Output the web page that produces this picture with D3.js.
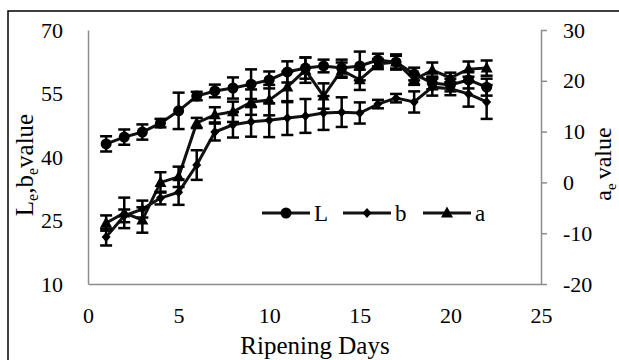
<!DOCTYPE html>
<html><head><meta charset="utf-8">
<script src="https://cdn.jsdelivr.net/npm/d3@7"></script>
<style>
html,body{margin:0;padding:0;background:#fff;}
svg{display:block;}
text{font-family:"Liberation Serif","Times New Roman",serif;fill:#000;}
</style></head><body>
<svg id="c" width="619" height="360"></svg>
<script>
const days = [1,2,3,4,5,6,7,8,9,10,11,12,13,14,15,16,17,18,19,20,21,22];
const Lvals = [43.1,44.7,45.9,48.0,50.9,54.4,55.6,56.3,57.2,58.2,60.1,61.0,61.5,61.0,61.5,62.9,62.4,59.6,57.5,57.0,58.2,56.5];
const Lerr  = [1.8,1.8,1.8,1.0,4.3,1.0,1.5,2.5,3.5,2.0,2.5,2.5,1.5,2.0,3.4,1.5,1.5,1.5,1.5,1.5,2.0,2.0];
const bvals = [21.1,26.1,27.7,30.3,31.7,38.1,45.9,47.6,48.3,48.7,49.2,49.7,50.4,50.6,50.4,52.5,53.9,53.0,56.5,56.1,54.9,53.0];
const berr  = [2.0,1.5,2.0,1.5,3.0,3.5,2.0,3.0,3.5,4.0,4.0,4.0,4.0,3.5,2.5,1.0,1.0,2.5,2.0,1.5,3.0,4.0];
const avals = [-8.0,-6.0,-7.4,0.0,1.1,11.7,13.3,13.9,15.8,16.2,18.8,22.1,17.0,22.1,20.2,23.3,23.7,20.2,22.1,20.6,22.3,22.5];
const aerr  = [1.5,3.0,2.5,2.0,2.0,1.0,1.5,2.0,2.5,3.0,3.0,2.5,2.5,1.5,2.0,1.0,1.5,1.0,1.5,1.0,1.5,1.5];
const xTicks = [0,5,10,15,20,25];
const leftTicks = [10,25,40,55,70];
const rightTicks = [-20,-10,0,10,20,30];
const seriesNames = ["L","b","a"];

const svg = d3.select("#c");
const x = d3.scaleLinear().domain([0,25]).range([88,541]);
const yL = d3.scaleLinear().domain([10,70]).range([284,30]);
const yR = d3.scaleLinear().domain([-20,30]).range([284,30]);

const serif = '"Liberation Serif","Times New Roman",serif';
const fmt = d => String(d);

// outer border
svg.append("rect").attr("x",8).attr("y",11).attr("width",640).attr("height",400)
  .attr("fill","none").attr("stroke","#000").attr("stroke-width",1.5);

const axisColor = "#8c8c8c";
const fs = 22;

function styleAxis(g){
  g.attr("font-family",serif).attr("font-size",fs);
  g.select(".domain").attr("stroke",axisColor).attr("stroke-width",1.5);
  g.selectAll("text").attr("fill","#000").style("font-family",serif).style("font-size",fs+"px");
}

// bottom axis
const gx = svg.append("g").attr("transform","translate(0,284)")
  .call(d3.axisBottom(x).tickValues(xTicks).tickSize(0).tickPadding(23).tickFormat(fmt));
styleAxis(gx);

// left axis
const gl = svg.append("g").attr("transform","translate(88,0)")
  .call(d3.axisLeft(yL).tickValues(leftTicks).tickSize(0).tickPadding(25).tickFormat(fmt));
styleAxis(gl);

// right axis
const gr = svg.append("g").attr("transform","translate(541,0)")
  .call(d3.axisRight(yR).tickValues(rightTicks).tickSize(6).tickPadding(16).tickSizeOuter(0).tickFormat(fmt));
styleAxis(gr);
gr.selectAll(".tick line").attr("stroke",axisColor).attr("stroke-width",1.5);

// axis titles
svg.append("text").attr("x",315).attr("y",354).attr("text-anchor","middle")
  .style("font-size","25px").text("Ripening Days");

const lt = svg.append("text").attr("transform","translate(33,165) rotate(-90)")
  .attr("text-anchor","middle").style("font-size","25px");
lt.append("tspan").text("L");
lt.append("tspan").attr("dy",5).style("font-size","16px").text("e");
lt.append("tspan").attr("dy",-5).text(",b");
lt.append("tspan").attr("dy",5).style("font-size","16px").text("e");
lt.append("tspan").attr("dy",-5).text("value");

const rt = svg.append("text").attr("transform","translate(611,164) rotate(-90)")
  .attr("text-anchor","middle").style("font-size","24px");
rt.append("tspan").text("a");
rt.append("tspan").attr("dy",5).style("font-size","15px").text("e");
rt.append("tspan").attr("dy",-5).attr("dx",4).text("value");

// series
const series = [
  {name:"L", vals:Lvals, err:Lerr, y:yL, shape:"circle"},
  {name:"b", vals:bvals, err:berr, y:yL, shape:"diamond"},
  {name:"a", vals:avals, err:aerr, y:yR, shape:"triangle"}
];
function marker(g, shape, cx, cy){
  if(shape==="circle"){
    g.append("circle").attr("cx",cx).attr("cy",cy).attr("r",5.5).attr("fill","#000");
  } else if(shape==="diamond"){
    g.append("path").attr("d",`M${cx},${cy-5}L${cx+4.5},${cy}L${cx},${cy+5}L${cx-4.5},${cy}Z`).attr("fill","#000");
  } else {
    g.append("path").attr("d",`M${cx},${cy-6.5}L${cx+6},${cy+4.5}L${cx-6},${cy+4.5}Z`).attr("fill","#000");
  }
}
series.forEach(s=>{
  const g = svg.append("g");
  const line = d3.line().x((d,i)=>x(days[i])).y(d=>s.y(d));
  g.append("path").datum(s.vals).attr("d",line).attr("fill","none")
    .attr("stroke","#111").attr("stroke-width",3);
  s.vals.forEach((v,i)=>{
    const cx = x(days[i]), y1 = s.y(v + s.err[i]), y2 = s.y(v - s.err[i]);
    g.append("line").attr("x1",cx).attr("x2",cx).attr("y1",y1).attr("y2",y2).attr("stroke","#000").attr("stroke-width",2.5);
    g.append("line").attr("x1",cx-6).attr("x2",cx+6).attr("y1",y1).attr("y2",y1).attr("stroke","#000").attr("stroke-width",2.5);
    g.append("line").attr("x1",cx-6).attr("x2",cx+6).attr("y1",y2).attr("y2",y2).attr("stroke","#000").attr("stroke-width",2.5);
  });
  s.vals.forEach((v,i)=>marker(g, s.shape, x(days[i]), s.y(v)));
});

// legend
const legX = [262, 343, 423];
series.forEach((s,i)=>{
  const g = svg.append("g").attr("fill","#000");
  const x0 = legX[i], ly = 213;
  g.append("rect").attr("x",x0-6).attr("y",ly-14).attr("width",80).attr("height",28).attr("fill","#fff");
  g.append("line").attr("x1",x0).attr("x2",x0+48).attr("y1",ly).attr("y2",ly).attr("stroke","#111").attr("stroke-width",3);
  marker(g, s.shape, x0+24, ly);
  g.append("text").attr("x",x0+52).attr("y",ly+8).style("font-size","23px").text(seriesNames[i]);
});
</script>
</body></html>
